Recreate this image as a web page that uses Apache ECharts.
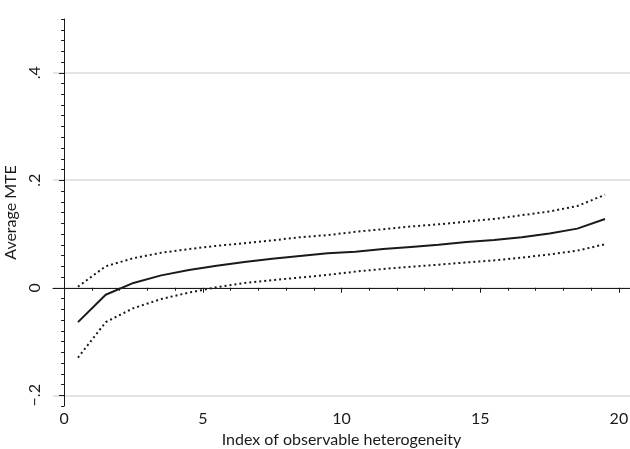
<!DOCTYPE html>
<html>
<head>
<meta charset="utf-8">
<script src="https://cdn.jsdelivr.net/npm/echarts@6/dist/echarts.min.js"></script>
<style>
  html, body { margin: 0; padding: 0; background: #fff; }
  #main { width: 630px; height: 449px; }
</style>
</head>
<body>
<div id="main"></div>
<script>
// index values (bin midpoints)
var xs = [0.5, 1.5, 2.5, 3.5, 4.5, 5.5, 6.5, 7.5, 8.5, 9.5,
          10.5, 11.5, 12.5, 13.5, 14.5, 15.5, 16.5, 17.5, 18.5, 19.5];
// average MTE and its bounds
var mte = [-0.064, -0.013, 0.009, 0.023, 0.033, 0.041, 0.048, 0.054, 0.059, 0.064,
           0.067, 0.072, 0.076, 0.080, 0.085, 0.089, 0.094, 0.101, 0.110, 0.128];
var upper = [0.002, 0.040, 0.055, 0.065, 0.072, 0.078, 0.083, 0.088, 0.094, 0.098,
             0.104, 0.109, 0.114, 0.118, 0.123, 0.128, 0.135, 0.142, 0.152, 0.173];
var lower = [-0.130, -0.064, -0.038, -0.021, -0.009, 0.001, 0.009, 0.014, 0.019, 0.024,
             0.030, 0.035, 0.039, 0.043, 0.047, 0.051, 0.056, 0.062, 0.069, 0.081];

var xTicks = [0, 5, 10, 15, 20];
var xMinor = [1, 2, 3, 4, 6, 7, 8, 9, 11, 12, 13, 14, 16, 17, 18, 19];
var yTicks = [-0.2, 0, 0.2, 0.4];

function pairs(ys) {
  return xs.map(function (x, i) { return [x, ys[i]]; });
}

// stata style labels: .4, 0, −.2
function fmtY(v) {
  if (Math.abs(v) < 1e-9) return '0';
  var s = String(Math.round(Math.abs(v) * 10) / 10).replace(/^0/, '');
  return (v < 0 ? '\u2212' : '') + s;
}

var font = 'Lato';
var ink = '#1a1a1a';

var chart = echarts.init(document.getElementById('main'));
chart.setOption({
  backgroundColor: '#fff',
  animation: false,
  grid: { left: 53, right: 0, top: 19, bottom: 43, outerBoundsMode: 'none', containLabel: false },
  xAxis: [{
    type: 'value', min: -0.4, max: 20.4,
    name: 'Index of observable heterogeneity',
    nameLocation: 'middle', nameGap: 24,
    nameTextStyle: { fontFamily: font, fontSize: 16, color: ink },
    axisLine: { lineStyle: { color: ink, width: 1 } },
    axisTick: { customValues: xTicks, length: 5, lineStyle: { color: ink } },
    axisLabel: { customValues: xTicks, margin: 5, fontFamily: font, fontSize: 16, color: ink },
    splitLine: { show: false }
  }, {
    type: 'value', min: -0.4, max: 20.4, position: 'bottom',
    axisLine: { show: false },
    axisTick: { customValues: xMinor, length: 3, lineStyle: { color: ink } },
    axisLabel: { show: false },
    splitLine: { show: false }
  }],
  yAxis: [{
    type: 'value', min: -0.22, max: 0.5,
    name: 'Average MTE',
    nameLocation: 'middle', nameGap: 32,
    nameTextStyle: { fontFamily: font, fontSize: 16, color: ink },
    axisLine: { show: true, lineStyle: { color: ink, width: 1 } },
    axisTick: { customValues: yTicks, length: 5, lineStyle: { color: ink } },
    axisLabel: { customValues: yTicks, rotate: 90, margin: 10, fontFamily: font, fontSize: 16, color: ink, formatter: fmtY },
    splitLine: { show: true, lineStyle: { color: '#dcdcdc', width: 1.5 } }
  }, {
    type: 'value', min: -0.22, max: 0.5, interval: 0.02, position: 'left',
    axisLine: { show: false },
    axisTick: { show: true, length: 3, lineStyle: { color: ink } },
    axisLabel: { show: false },
    splitLine: { show: false }
  }],
  series: [{
    type: 'line', data: pairs(upper), symbol: 'none',
    lineStyle: { color: ink, width: 2, type: [2, 3] }
  }, {
    type: 'line', data: pairs(mte), symbol: 'none',
    lineStyle: { color: ink, width: 2 }
  }, {
    type: 'line', data: pairs(lower), symbol: 'none',
    lineStyle: { color: ink, width: 2, type: [2, 3] }
  }]
});
</script>
</body>
</html>
